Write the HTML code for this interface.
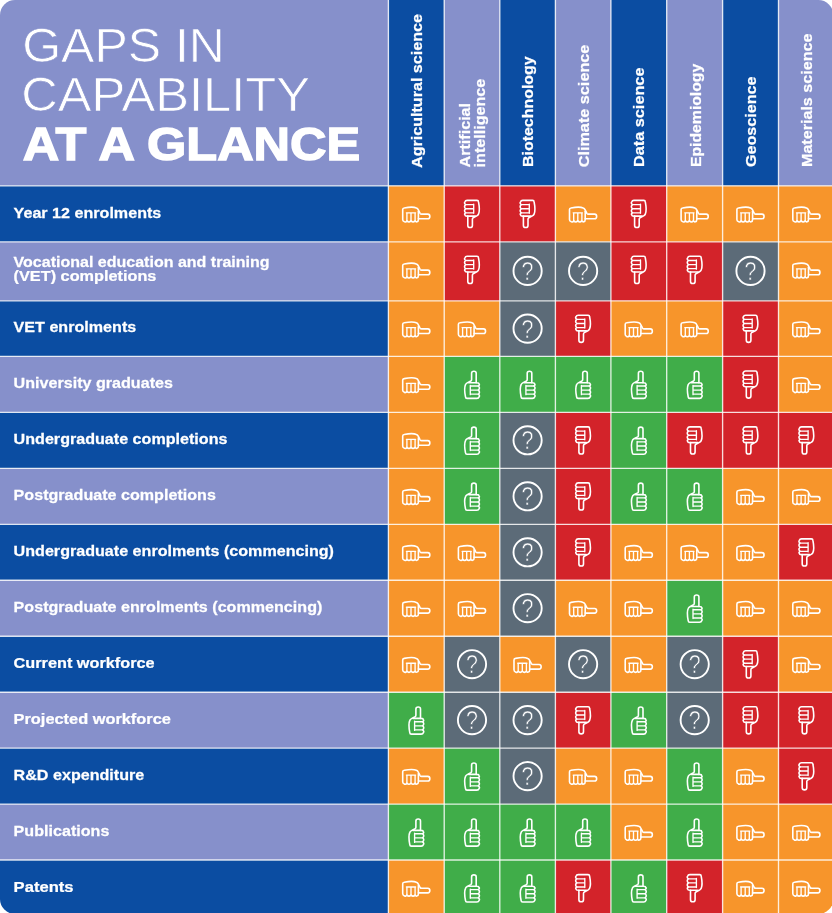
<!DOCTYPE html>
<html lang="en"><head><meta charset="utf-8"><title>Gaps in capability at a glance</title>
<style>html,body{margin:0;padding:0;background:#fff}body{width:832px;height:913px;overflow:hidden}svg{display:block}text{font-family:"Liberation Sans",Arial,sans-serif;fill:#fff}.b{font-weight:bold;font-size:15.2px;stroke:#fff;stroke-width:.25px}.t{font-size:48.2px;stroke:#8690CB;stroke-width:.7px}.tb{font-size:45.6px;font-weight:bold;stroke:#fff;stroke-width:1.4px;stroke-linejoin:miter}.ic{fill:none;stroke:#fff;stroke-width:1.6;stroke-linecap:round;stroke-linejoin:round}.ln{stroke:#fff;stroke-opacity:.82;stroke-width:1.35;fill:none}</style></head><body>
<svg width="832" height="913" viewBox="0 0 832 913">
<defs><clipPath id="rc"><rect x="0" y="0" width="833.3" height="914" rx="15" ry="15"/></clipPath>
<g id="td" class="ic" transform="translate(-8.2,-14.5)"><path d="M3.3,0.9 H13.2 Q14.6,0.9 14.7,2.4 C15.6,7 15.9,12 14.7,14.6 Q14.2,15.8 13,16.4 L9.4,18.3 Q8.6,18.8 8.6,19.8 V26 Q8.6,28.05 6.3,28.05 Q4,28.05 4,26 V16.6 H3.2 Q1.3,16.6 1.1,15.3 Q0.3,14.3 1.8,13.3 Q-0.3,11.25 1.8,9.2 Q-0.3,7.15 1.8,5.1 Q0,3.6 1.2,2.3 Q1.6,0.9 3.3,0.9 Z"/><path d="M4,16.6 H11.5"/><path style="stroke-width:1.35" d="M1.8,5.1 H9.9 M1.8,9.2 H9.9 M1.8,13.3 H9.9 M9.9,4.6 V13.8"/></g>
<g id="tu" transform="rotate(180)"><use href="#td"/></g>
<g id="ts" transform="rotate(-90)"><use href="#td"/></g>
<g id="qq"><circle r="14.1" class="ic" style="stroke-width:1.9"/><text x="0" y="9" text-anchor="middle" style="font-size:25px;stroke:#5C6B78;stroke-width:.6px" transform="scale(0.86,1)">?</text></g>
</defs>
<g clip-path="url(#rc)">
<rect x="0" y="0" width="388.4" height="185.8" fill="#8690CB"/>
<rect x="388.4" y="0" width="56.0" height="185.8" fill="#0B4DA2"/>
<rect x="444.2" y="0" width="55.8" height="185.8" fill="#8690CB"/>
<rect x="499.8" y="0" width="55.8" height="185.8" fill="#0B4DA2"/>
<rect x="555.4" y="0" width="55.7" height="185.8" fill="#8690CB"/>
<rect x="610.9" y="0" width="56.0" height="185.8" fill="#0B4DA2"/>
<rect x="666.7" y="0" width="56.1" height="185.8" fill="#8690CB"/>
<rect x="722.6" y="0" width="56.1" height="185.8" fill="#0B4DA2"/>
<rect x="778.5" y="0" width="56.0" height="185.8" fill="#8690CB"/>
<rect x="0" y="185.8" width="388.4" height="56.2" fill="#0B4DA2"/>
<rect x="388.4" y="185.8" width="56.0" height="56.2" fill="#F7952B"/>
<rect x="444.2" y="185.8" width="55.8" height="56.2" fill="#D3232A"/>
<rect x="499.8" y="185.8" width="55.8" height="56.2" fill="#D3232A"/>
<rect x="555.4" y="185.8" width="55.7" height="56.2" fill="#F7952B"/>
<rect x="610.9" y="185.8" width="56.0" height="56.2" fill="#D3232A"/>
<rect x="666.7" y="185.8" width="56.1" height="56.2" fill="#F7952B"/>
<rect x="722.6" y="185.8" width="56.1" height="56.2" fill="#F7952B"/>
<rect x="778.5" y="185.8" width="56.0" height="56.2" fill="#F7952B"/>
<rect x="0" y="241.8" width="388.4" height="59.2" fill="#8690CB"/>
<rect x="388.4" y="241.8" width="56.0" height="59.2" fill="#F7952B"/>
<rect x="444.2" y="241.8" width="55.8" height="59.2" fill="#D3232A"/>
<rect x="499.8" y="241.8" width="55.8" height="59.2" fill="#5C6B78"/>
<rect x="555.4" y="241.8" width="55.7" height="59.2" fill="#5C6B78"/>
<rect x="610.9" y="241.8" width="56.0" height="59.2" fill="#D3232A"/>
<rect x="666.7" y="241.8" width="56.1" height="59.2" fill="#D3232A"/>
<rect x="722.6" y="241.8" width="56.1" height="59.2" fill="#5C6B78"/>
<rect x="778.5" y="241.8" width="56.0" height="59.2" fill="#F7952B"/>
<rect x="0" y="300.8" width="388.4" height="55.8" fill="#0B4DA2"/>
<rect x="388.4" y="300.8" width="56.0" height="55.8" fill="#F7952B"/>
<rect x="444.2" y="300.8" width="55.8" height="55.8" fill="#F7952B"/>
<rect x="499.8" y="300.8" width="55.8" height="55.8" fill="#5C6B78"/>
<rect x="555.4" y="300.8" width="55.7" height="55.8" fill="#D3232A"/>
<rect x="610.9" y="300.8" width="56.0" height="55.8" fill="#F7952B"/>
<rect x="666.7" y="300.8" width="56.1" height="55.8" fill="#F7952B"/>
<rect x="722.6" y="300.8" width="56.1" height="55.8" fill="#D3232A"/>
<rect x="778.5" y="300.8" width="56.0" height="55.8" fill="#F7952B"/>
<rect x="0" y="356.4" width="388.4" height="56.2" fill="#8690CB"/>
<rect x="388.4" y="356.4" width="56.0" height="56.2" fill="#F7952B"/>
<rect x="444.2" y="356.4" width="55.8" height="56.2" fill="#40AD49"/>
<rect x="499.8" y="356.4" width="55.8" height="56.2" fill="#40AD49"/>
<rect x="555.4" y="356.4" width="55.7" height="56.2" fill="#40AD49"/>
<rect x="610.9" y="356.4" width="56.0" height="56.2" fill="#40AD49"/>
<rect x="666.7" y="356.4" width="56.1" height="56.2" fill="#40AD49"/>
<rect x="722.6" y="356.4" width="56.1" height="56.2" fill="#D3232A"/>
<rect x="778.5" y="356.4" width="56.0" height="56.2" fill="#F7952B"/>
<rect x="0" y="412.4" width="388.4" height="56.2" fill="#0B4DA2"/>
<rect x="388.4" y="412.4" width="56.0" height="56.2" fill="#F7952B"/>
<rect x="444.2" y="412.4" width="55.8" height="56.2" fill="#40AD49"/>
<rect x="499.8" y="412.4" width="55.8" height="56.2" fill="#5C6B78"/>
<rect x="555.4" y="412.4" width="55.7" height="56.2" fill="#D3232A"/>
<rect x="610.9" y="412.4" width="56.0" height="56.2" fill="#40AD49"/>
<rect x="666.7" y="412.4" width="56.1" height="56.2" fill="#D3232A"/>
<rect x="722.6" y="412.4" width="56.1" height="56.2" fill="#D3232A"/>
<rect x="778.5" y="412.4" width="56.0" height="56.2" fill="#D3232A"/>
<rect x="0" y="468.3" width="388.4" height="56.2" fill="#8690CB"/>
<rect x="388.4" y="468.3" width="56.0" height="56.2" fill="#F7952B"/>
<rect x="444.2" y="468.3" width="55.8" height="56.2" fill="#40AD49"/>
<rect x="499.8" y="468.3" width="55.8" height="56.2" fill="#5C6B78"/>
<rect x="555.4" y="468.3" width="55.7" height="56.2" fill="#D3232A"/>
<rect x="610.9" y="468.3" width="56.0" height="56.2" fill="#40AD49"/>
<rect x="666.7" y="468.3" width="56.1" height="56.2" fill="#40AD49"/>
<rect x="722.6" y="468.3" width="56.1" height="56.2" fill="#F7952B"/>
<rect x="778.5" y="468.3" width="56.0" height="56.2" fill="#F7952B"/>
<rect x="0" y="524.3" width="388.4" height="56.2" fill="#0B4DA2"/>
<rect x="388.4" y="524.3" width="56.0" height="56.2" fill="#F7952B"/>
<rect x="444.2" y="524.3" width="55.8" height="56.2" fill="#F7952B"/>
<rect x="499.8" y="524.3" width="55.8" height="56.2" fill="#5C6B78"/>
<rect x="555.4" y="524.3" width="55.7" height="56.2" fill="#D3232A"/>
<rect x="610.9" y="524.3" width="56.0" height="56.2" fill="#F7952B"/>
<rect x="666.7" y="524.3" width="56.1" height="56.2" fill="#F7952B"/>
<rect x="722.6" y="524.3" width="56.1" height="56.2" fill="#F7952B"/>
<rect x="778.5" y="524.3" width="56.0" height="56.2" fill="#D3232A"/>
<rect x="0" y="580.2" width="388.4" height="56.2" fill="#8690CB"/>
<rect x="388.4" y="580.2" width="56.0" height="56.2" fill="#F7952B"/>
<rect x="444.2" y="580.2" width="55.8" height="56.2" fill="#F7952B"/>
<rect x="499.8" y="580.2" width="55.8" height="56.2" fill="#5C6B78"/>
<rect x="555.4" y="580.2" width="55.7" height="56.2" fill="#F7952B"/>
<rect x="610.9" y="580.2" width="56.0" height="56.2" fill="#F7952B"/>
<rect x="666.7" y="580.2" width="56.1" height="56.2" fill="#40AD49"/>
<rect x="722.6" y="580.2" width="56.1" height="56.2" fill="#F7952B"/>
<rect x="778.5" y="580.2" width="56.0" height="56.2" fill="#F7952B"/>
<rect x="0" y="636.2" width="388.4" height="56.2" fill="#0B4DA2"/>
<rect x="388.4" y="636.2" width="56.0" height="56.2" fill="#F7952B"/>
<rect x="444.2" y="636.2" width="55.8" height="56.2" fill="#5C6B78"/>
<rect x="499.8" y="636.2" width="55.8" height="56.2" fill="#F7952B"/>
<rect x="555.4" y="636.2" width="55.7" height="56.2" fill="#5C6B78"/>
<rect x="610.9" y="636.2" width="56.0" height="56.2" fill="#F7952B"/>
<rect x="666.7" y="636.2" width="56.1" height="56.2" fill="#5C6B78"/>
<rect x="722.6" y="636.2" width="56.1" height="56.2" fill="#D3232A"/>
<rect x="778.5" y="636.2" width="56.0" height="56.2" fill="#F7952B"/>
<rect x="0" y="692.2" width="388.4" height="56.2" fill="#8690CB"/>
<rect x="388.4" y="692.2" width="56.0" height="56.2" fill="#40AD49"/>
<rect x="444.2" y="692.2" width="55.8" height="56.2" fill="#5C6B78"/>
<rect x="499.8" y="692.2" width="55.8" height="56.2" fill="#5C6B78"/>
<rect x="555.4" y="692.2" width="55.7" height="56.2" fill="#D3232A"/>
<rect x="610.9" y="692.2" width="56.0" height="56.2" fill="#40AD49"/>
<rect x="666.7" y="692.2" width="56.1" height="56.2" fill="#5C6B78"/>
<rect x="722.6" y="692.2" width="56.1" height="56.2" fill="#D3232A"/>
<rect x="778.5" y="692.2" width="56.0" height="56.2" fill="#D3232A"/>
<rect x="0" y="748.1" width="388.4" height="56.2" fill="#0B4DA2"/>
<rect x="388.4" y="748.1" width="56.0" height="56.2" fill="#F7952B"/>
<rect x="444.2" y="748.1" width="55.8" height="56.2" fill="#40AD49"/>
<rect x="499.8" y="748.1" width="55.8" height="56.2" fill="#5C6B78"/>
<rect x="555.4" y="748.1" width="55.7" height="56.2" fill="#F7952B"/>
<rect x="610.9" y="748.1" width="56.0" height="56.2" fill="#F7952B"/>
<rect x="666.7" y="748.1" width="56.1" height="56.2" fill="#40AD49"/>
<rect x="722.6" y="748.1" width="56.1" height="56.2" fill="#F7952B"/>
<rect x="778.5" y="748.1" width="56.0" height="56.2" fill="#D3232A"/>
<rect x="0" y="804.1" width="388.4" height="56.2" fill="#8690CB"/>
<rect x="388.4" y="804.1" width="56.0" height="56.2" fill="#40AD49"/>
<rect x="444.2" y="804.1" width="55.8" height="56.2" fill="#40AD49"/>
<rect x="499.8" y="804.1" width="55.8" height="56.2" fill="#40AD49"/>
<rect x="555.4" y="804.1" width="55.7" height="56.2" fill="#40AD49"/>
<rect x="610.9" y="804.1" width="56.0" height="56.2" fill="#F7952B"/>
<rect x="666.7" y="804.1" width="56.1" height="56.2" fill="#40AD49"/>
<rect x="722.6" y="804.1" width="56.1" height="56.2" fill="#F7952B"/>
<rect x="778.5" y="804.1" width="56.0" height="56.2" fill="#F7952B"/>
<rect x="0" y="860.0" width="388.4" height="56.2" fill="#0B4DA2"/>
<rect x="388.4" y="860.0" width="56.0" height="56.2" fill="#F7952B"/>
<rect x="444.2" y="860.0" width="55.8" height="56.2" fill="#40AD49"/>
<rect x="499.8" y="860.0" width="55.8" height="56.2" fill="#40AD49"/>
<rect x="555.4" y="860.0" width="55.7" height="56.2" fill="#D3232A"/>
<rect x="610.9" y="860.0" width="56.0" height="56.2" fill="#40AD49"/>
<rect x="666.7" y="860.0" width="56.1" height="56.2" fill="#D3232A"/>
<rect x="722.6" y="860.0" width="56.1" height="56.2" fill="#F7952B"/>
<rect x="778.5" y="860.0" width="56.0" height="56.2" fill="#F7952B"/>
<path class="ln" d="M388.4,0 V913"/>
<path class="ln" d="M444.2,0 V913"/>
<path class="ln" d="M499.8,0 V913"/>
<path class="ln" d="M555.4,0 V913"/>
<path class="ln" d="M610.9,0 V913"/>
<path class="ln" d="M666.7,0 V913"/>
<path class="ln" d="M722.6,0 V913"/>
<path class="ln" d="M778.5,0 V913"/>
<path class="ln" d="M0,185.8 H832"/>
<path class="ln" d="M0,241.8 H832"/>
<path class="ln" d="M0,300.8 H832"/>
<path class="ln" d="M0,356.4 H832"/>
<path class="ln" d="M0,412.4 H832"/>
<path class="ln" d="M0,468.3 H832"/>
<path class="ln" d="M0,524.3 H832"/>
<path class="ln" d="M0,580.2 H832"/>
<path class="ln" d="M0,636.2 H832"/>
<path class="ln" d="M0,692.2 H832"/>
<path class="ln" d="M0,748.1 H832"/>
<path class="ln" d="M0,804.1 H832"/>
<path class="ln" d="M0,860.0 H832"/>
<use href="#ts" x="416.3" y="214.5"/>
<use href="#td" x="472.0" y="214.0"/>
<use href="#td" x="527.6" y="214.0"/>
<use href="#ts" x="583.1" y="214.5"/>
<use href="#td" x="638.8" y="214.0"/>
<use href="#ts" x="694.7" y="214.5"/>
<use href="#ts" x="750.5" y="214.5"/>
<use href="#ts" x="806.4" y="214.5"/>
<use href="#ts" x="416.3" y="270.5"/>
<use href="#td" x="472.0" y="269.9"/>
<use href="#qq" x="527.6" y="270.9"/>
<use href="#qq" x="583.1" y="270.9"/>
<use href="#td" x="638.8" y="269.9"/>
<use href="#td" x="694.7" y="269.9"/>
<use href="#qq" x="750.5" y="270.9"/>
<use href="#ts" x="806.4" y="270.5"/>
<use href="#ts" x="416.3" y="329.3"/>
<use href="#ts" x="472.0" y="329.3"/>
<use href="#qq" x="527.6" y="328.6"/>
<use href="#td" x="583.1" y="328.8"/>
<use href="#ts" x="638.8" y="329.3"/>
<use href="#ts" x="694.7" y="329.3"/>
<use href="#td" x="750.5" y="328.8"/>
<use href="#ts" x="806.4" y="329.3"/>
<use href="#ts" x="416.3" y="385.1"/>
<use href="#tu" x="472.0" y="384.8"/>
<use href="#tu" x="527.6" y="384.8"/>
<use href="#tu" x="583.1" y="384.8"/>
<use href="#tu" x="638.8" y="384.8"/>
<use href="#tu" x="694.7" y="384.8"/>
<use href="#td" x="750.5" y="384.6"/>
<use href="#ts" x="806.4" y="385.1"/>
<use href="#ts" x="416.3" y="441.0"/>
<use href="#tu" x="472.0" y="440.7"/>
<use href="#qq" x="527.6" y="440.3"/>
<use href="#td" x="583.1" y="440.5"/>
<use href="#tu" x="638.8" y="440.7"/>
<use href="#td" x="694.7" y="440.5"/>
<use href="#td" x="750.5" y="440.5"/>
<use href="#td" x="806.4" y="440.5"/>
<use href="#ts" x="416.3" y="497.0"/>
<use href="#tu" x="472.0" y="496.7"/>
<use href="#qq" x="527.6" y="496.3"/>
<use href="#td" x="583.1" y="496.5"/>
<use href="#tu" x="638.8" y="496.7"/>
<use href="#tu" x="694.7" y="496.7"/>
<use href="#ts" x="750.5" y="497.0"/>
<use href="#ts" x="806.4" y="497.0"/>
<use href="#ts" x="416.3" y="553.0"/>
<use href="#ts" x="472.0" y="553.0"/>
<use href="#qq" x="527.6" y="552.3"/>
<use href="#td" x="583.1" y="552.5"/>
<use href="#ts" x="638.8" y="553.0"/>
<use href="#ts" x="694.7" y="553.0"/>
<use href="#ts" x="750.5" y="553.0"/>
<use href="#td" x="806.4" y="552.5"/>
<use href="#ts" x="416.3" y="608.9"/>
<use href="#ts" x="472.0" y="608.9"/>
<use href="#qq" x="527.6" y="608.2"/>
<use href="#ts" x="583.1" y="608.9"/>
<use href="#ts" x="638.8" y="608.9"/>
<use href="#tu" x="694.7" y="608.6"/>
<use href="#ts" x="750.5" y="608.9"/>
<use href="#ts" x="806.4" y="608.9"/>
<use href="#ts" x="416.3" y="664.9"/>
<use href="#qq" x="472.0" y="664.2"/>
<use href="#ts" x="527.6" y="664.9"/>
<use href="#qq" x="583.1" y="664.2"/>
<use href="#ts" x="638.8" y="664.9"/>
<use href="#qq" x="694.7" y="664.2"/>
<use href="#td" x="750.5" y="664.4"/>
<use href="#ts" x="806.4" y="664.9"/>
<use href="#tu" x="416.3" y="720.5"/>
<use href="#qq" x="472.0" y="720.1"/>
<use href="#qq" x="527.6" y="720.1"/>
<use href="#td" x="583.1" y="720.3"/>
<use href="#tu" x="638.8" y="720.5"/>
<use href="#qq" x="694.7" y="720.1"/>
<use href="#td" x="750.5" y="720.3"/>
<use href="#td" x="806.4" y="720.3"/>
<use href="#ts" x="416.3" y="776.8"/>
<use href="#tu" x="472.0" y="776.5"/>
<use href="#qq" x="527.6" y="776.1"/>
<use href="#ts" x="583.1" y="776.8"/>
<use href="#ts" x="638.8" y="776.8"/>
<use href="#tu" x="694.7" y="776.5"/>
<use href="#ts" x="750.5" y="776.8"/>
<use href="#td" x="806.4" y="776.3"/>
<use href="#tu" x="416.3" y="832.5"/>
<use href="#tu" x="472.0" y="832.5"/>
<use href="#tu" x="527.6" y="832.5"/>
<use href="#tu" x="583.1" y="832.5"/>
<use href="#ts" x="638.8" y="832.8"/>
<use href="#tu" x="694.7" y="832.5"/>
<use href="#ts" x="750.5" y="832.8"/>
<use href="#ts" x="806.4" y="832.8"/>
<use href="#ts" x="416.3" y="888.7"/>
<use href="#tu" x="472.0" y="888.4"/>
<use href="#tu" x="527.6" y="888.4"/>
<use href="#td" x="583.1" y="888.2"/>
<use href="#tu" x="638.8" y="888.4"/>
<use href="#td" x="694.7" y="888.2"/>
<use href="#ts" x="750.5" y="888.7"/>
<use href="#ts" x="806.4" y="888.7"/>
<text class="t" transform="translate(22.2,62.0) scale(1.037,1)">GAPS IN</text>
<text class="t" transform="translate(21.2,111.1) scale(1.050,1)">CAPABILITY</text>
<text class="tb" transform="translate(22.8,159.7) scale(1.107,1)">AT A GLANCE</text>
<text class="b" transform="translate(13.6,218.1) scale(1.060,1)">Year 12 enrolments</text>
<text class="b" transform="translate(13.6,267.1) scale(1.054,1)">Vocational education and training</text>
<text class="b" transform="translate(13.6,281.3) scale(1.071,1)">(VET) completions</text>
<text class="b" transform="translate(13.6,331.5) scale(1.060,1)">VET enrolments</text>
<text class="b" transform="translate(13.6,388.0) scale(1.060,1)">University graduates</text>
<text class="b" transform="translate(13.6,443.9) scale(1.060,1)">Undergraduate completions</text>
<text class="b" transform="translate(13.6,499.9) scale(1.060,1)">Postgraduate completions</text>
<text class="b" transform="translate(13.6,555.9) scale(1.060,1)">Undergraduate enrolments (commencing)</text>
<text class="b" transform="translate(13.6,611.8) scale(1.060,1)">Postgraduate enrolments (commencing)</text>
<text class="b" transform="translate(13.6,667.8) scale(1.071,1)">Current workforce</text>
<text class="b" transform="translate(13.6,723.7) scale(1.077,1)">Projected workforce</text>
<text class="b" transform="translate(13.6,779.7) scale(1.060,1)">R&amp;D expenditure</text>
<text class="b" transform="translate(13.6,835.7) scale(1.060,1)">Publications</text>
<text class="b" transform="translate(13.6,891.6) scale(1.092,1)">Patents</text>
<text class="b" transform="translate(422.3,168.0) rotate(-90) scale(1.060,1)">Agricultural science</text>
<text class="b" transform="translate(470.0,167.4) rotate(-90) scale(1.060,1)">Artificial</text>
<text class="b" transform="translate(485.4,167.4) rotate(-90) scale(1.060,1)">intelligence</text>
<text class="b" transform="translate(532.8,167.0) rotate(-90) scale(1.049,1)">Biotechnology</text>
<text class="b" transform="translate(588.5,167.3) rotate(-90) scale(1.068,1)">Climate science</text>
<text class="b" transform="translate(644.0,167.0) rotate(-90) scale(1.071,1)">Data science</text>
<text class="b" transform="translate(700.7,167.0) rotate(-90) scale(1.037,1)">Epidemiology</text>
<text class="b" transform="translate(756.2,167.0) rotate(-90) scale(1.060,1)">Geoscience</text>
<text class="b" transform="translate(811.7,167.0) rotate(-90) scale(1.060,1)">Materials science</text>
</g></svg></body></html>
